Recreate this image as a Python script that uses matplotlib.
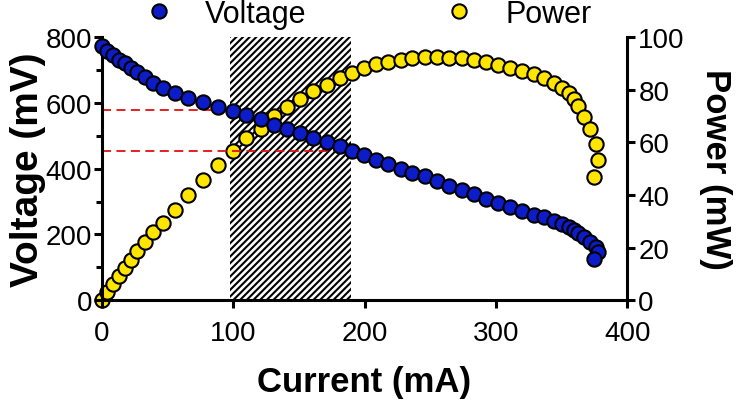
import numpy as np
import matplotlib.pyplot as plt

# polarisation data
current = [0, 4, 8.5, 13, 17.5, 22, 27, 32.5, 39, 46.5,
           55.5, 65.5, 77, 88.5, 99.5, 110, 121, 131, 141, 151,
           161, 171.5, 181, 190.5, 199.5, 209, 218, 227.5, 236.5, 246,
           255, 264.5, 274, 283, 292.5, 301.5, 310.5, 320, 329, 337,
           344.5, 350.5, 356, 359.5, 362.5, 367, 372, 376, 378, 375]
voltage = [772, 758, 745, 732, 720, 707, 694, 679, 662, 645,
           629, 616, 602, 588, 575, 562, 550, 534, 521, 507,
           494, 480, 468, 453, 440, 427, 414, 400, 387, 377,
           361, 348, 336, 324, 308, 295, 283, 270, 260, 253,
           240, 231, 222, 214, 205, 193, 178, 162, 145, 124]
power = [0, 3, 6.3, 9.3, 12.3, 15.2, 18.5, 22, 25.8, 29.5,
         34.4, 40, 45.8, 51.5, 56.6, 61.5, 65.2, 70, 73.5, 76.6,
         79.5, 82, 84.6, 86.5, 88.4, 89.7, 90.6, 91.3, 91.9, 92.6,
         92.6, 92.2, 91.9, 91.3, 90.6, 89.3, 88.4, 87.1, 85.9, 84.6,
         82.7, 80.8, 78.9, 76.6, 73.8, 69.7, 64.9, 59.5, 53.4, 46.8]

window = [97.5, 189.5]          # hatched operating window (mA)
ref_current = [97.5, 189.5]     # red guide lines end here
ref_voltage = [578, 455]

plt.rcParams.update({
    'font.family': 'Liberation Sans',
    'hatch.linewidth': 1.5,
})

fig = plt.figure(figsize=(7.44, 4.02), dpi=100)
ax = fig.add_axes([0.137, 0.251, 0.706, 0.654])
ax2 = ax.twinx()
# voltage axis on top, so the blue dots cover the yellow ones
ax.set_zorder(ax2.get_zorder() + 1)
ax.patch.set_visible(False)

ax2.axvspan(window[0], window[1], facecolor='white', edgecolor='black',
            hatch='/////', linewidth=0, zorder=0)
p_line, = ax2.plot(current, power, 'o', ms=10.3, mfc='#FFE500', mec='black',
                   mew=1.5, clip_on=False, zorder=3, label='Power')

for c, v in zip(ref_current, ref_voltage):
    ax.plot([0, c], [v, v], color='#e01010', ls=(0, (5, 3)), lw=1.3, zorder=2)
v_line, = ax.plot(current, voltage, 'o', ms=10.3, mfc='#0C1CC8', mec='black',
                  mew=1.5, clip_on=False, zorder=3, label='Voltage')

ax.set_xlim(0, 400)
ax.set_ylim(0, 800)
ax2.set_ylim(0, 100)
ax.set_xticks(np.arange(0, 401, 100))
ax.set_yticks(np.arange(0, 801, 200))
ax.set_yticks(np.arange(100, 800, 200), minor=True)
ax2.set_yticks(np.arange(0, 101, 20))

for a in (ax, ax2):
    a.spines['top'].set_visible(False)
    for s in a.spines.values():
        s.set_linewidth(2.2)
ax.spines['right'].set_visible(False)
ax2.spines['left'].set_visible(False)
ax2.spines['bottom'].set_visible(False)

ax.tick_params(axis='both', which='major', length=6, width=2.2, labelsize=20)
ax.tick_params(axis='y', which='minor', length=4, width=2.2)
ax.tick_params(axis='y', pad=1)
ax.tick_params(axis='x', pad=8)
ax2.tick_params(axis='y', length=6, width=2.2, labelsize=20, pad=2)

ax.set_xlabel('Current (mA)', fontsize=25, fontweight='bold', labelpad=14)
ax.set_ylabel('Voltage (mV)', fontsize=28, fontweight='bold', labelpad=0)
ax2.set_ylabel('Power (mW)', fontsize=25, fontweight='bold', rotation=-90,
               labelpad=34)

fig.legend(handles=[v_line, p_line], loc='center', bbox_to_anchor=(0.494, 0.963),
           ncol=2, frameon=False, fontsize=22, handlelength=1.0,
           handletextpad=1.0, columnspacing=4.5)

fig.savefig('out.png', dpi=100)
